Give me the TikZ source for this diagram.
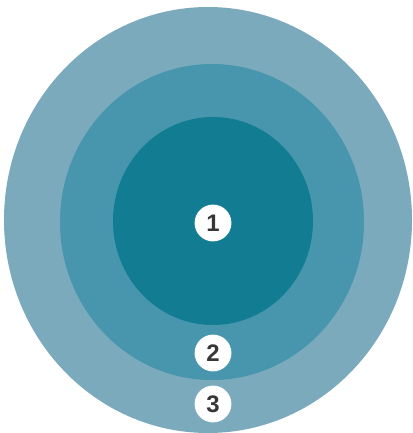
\documentclass[tikz,border=0pt]{standalone}
\usepackage{fontspec}
\setmainfont{Liberation Sans}
\definecolor{ringout}{RGB}{122,170,188}
\definecolor{ringmid}{RGB}{72,150,173}
\definecolor{ringin}{RGB}{17,124,146}
\definecolor{numgray}{RGB}{55,55,55}
\tikzset{badge/.style={circle,fill=white,draw=none,minimum size=0.92cm,inner sep=0pt,
  text=numgray,font=\fontsize{17}{17}\selectfont\bfseries}}

\begin{document}
\begin{tikzpicture}[x=0.025cm,y=-0.025cm]
\useasboundingbox (0,0) rectangle (413,433);
\coordinate (O3) at (208,220); \coordinate (O2) at (212,222); \coordinate (O1) at (213,221);
\fill[ringout] (O3) ellipse [x radius=204,y radius=213];
\fill[ringmid] (O2) ellipse [x radius=152,y radius=158];
\fill[ringin] (O1) ellipse [x radius=100,y radius=104];
\node[badge] (n1) at (213,223) {1};
\node[badge] (n2) at (213,353) {2};
\node[badge] (n3) at (213,404) {3};
\end{tikzpicture}
\end{document}
